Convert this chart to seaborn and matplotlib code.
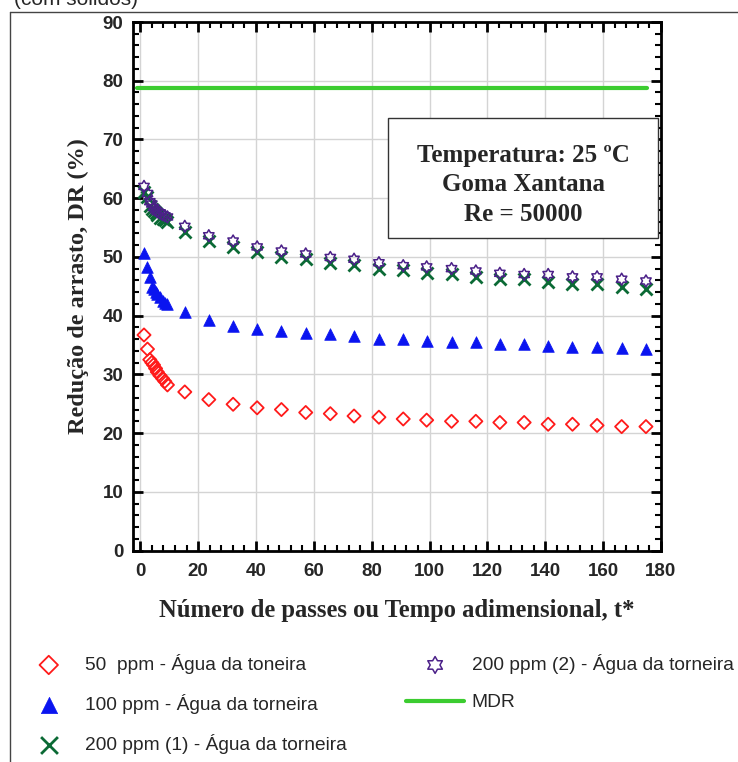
import numpy as np
import pandas as pd
import matplotlib
matplotlib.use("Agg")
import matplotlib.pyplot as plt
import seaborn as sns
from matplotlib.path import Path
from matplotlib.patches import Rectangle
from matplotlib.lines import Line2D
from matplotlib.ticker import MultipleLocator

# ---------------- data ----------------
t_passes = [1.3, 2.5, 3.3, 4.0, 4.6, 5.3, 5.9, 6.8, 7.7, 8.5, 9.4,
            15.4, 23.7, 32.1, 40.4, 48.8, 57.2, 65.7, 73.9, 82.5, 90.9,
            99.0, 107.6, 116.0, 124.3, 132.7, 141.0, 149.4, 157.9, 166.4, 174.8]
dr_50ppm = [36.7, 34.3, 32.5, 32.0, 31.6, 31.0, 30.4, 29.8, 29.3, 28.8, 28.2,
            27.0, 25.7, 24.9, 24.3, 24.0, 23.5, 23.3, 22.9, 22.7, 22.4,
            22.2, 22.0, 22.0, 21.8, 21.8, 21.5, 21.5, 21.3, 21.1, 21.1]
dr_100ppm = [50.6, 48.2, 46.6, 44.9, 44.6, 44.0, 43.6, 43.1, 42.5, 42.1, 41.9,
             40.6, 39.2, 38.3, 37.8, 37.3, 37.1, 36.8, 36.5, 36.1, 36.0,
             35.6, 35.5, 35.5, 35.1, 35.1, 34.9, 34.6, 34.6, 34.4, 34.3]
dr_200ppm_1 = [61.1, 60.2, 58.7, 58.2, 57.8, 57.4, 57.1, 56.7, 56.4, 56.2, 56.0,
               54.2, 52.7, 51.7, 50.8, 50.0, 49.7, 49.0, 48.7, 48.0, 47.7,
               47.3, 47.1, 46.6, 46.3, 46.2, 45.7, 45.4, 45.3, 44.9, 44.6]
dr_200ppm_2 = [62.0, 60.8, 59.4, 59.0, 58.4, 58.0, 57.7, 57.5, 57.2, 57.0, 56.8,
               55.2, 53.6, 52.7, 51.7, 51.0, 50.5, 49.9, 49.6, 49.0, 48.5,
               48.3, 48.0, 47.6, 47.2, 47.0, 47.0, 46.6, 46.6, 46.2, 45.9]
mdr_x = [-1.0, 175.0]
mdr_y = [78.8, 78.8]

labels = ["50  ppm - Água da toneira",
          "100 ppm - Água da torneira",
          "200 ppm (1) - Água da torneira",
          "200 ppm (2) - Água da torneira",
          "MDR"]
x_ticks = list(range(0, 181, 20))
y_ticks = list(range(0, 91, 10))

# ---------------- style ----------------
sns.set_style("ticks")
plt.rcParams["font.family"] = ["Liberation Sans", "DejaVu Sans"]

fig = plt.figure(figsize=(7.38, 7.62), dpi=100)
ax = fig.add_axes([133 / 738, 1 - 550.5 / 762, (661 - 133) / 738, (550.5 - 22) / 762])

# hexagram marker
angs = np.deg2rad(np.arange(12) * 30 + 90)
rad = np.where(np.arange(12) % 2 == 0, 1.0, 1 / np.sqrt(3))
verts = np.column_stack([rad * np.cos(angs), rad * np.sin(angs)])
verts = np.vstack([verts, verts[:1]])
codes = [Path.MOVETO] + [Path.LINETO] * 11 + [Path.CLOSEPOLY]
hexagram = Path(verts, codes)

df = pd.DataFrame({"t": t_passes, "a": dr_50ppm, "b": dr_100ppm,
                   "c": dr_200ppm_1, "d": dr_200ppm_2})

sns.lineplot(x=mdr_x, y=mdr_y, ax=ax, color="#3ccc30", lw=3, label=labels[4],
             zorder=2)
sns.scatterplot(data=df, x="t", y="a", ax=ax, marker="D", s=45,
                facecolors="none", edgecolor="#ff1a1a", linewidth=1.3,
                label=labels[0], zorder=3)
sns.scatterplot(data=df, x="t", y="b", ax=ax, marker="^", s=70,
                color="#0a14f0", edgecolor="#0a14f0", linewidth=0.5,
                label=labels[1], zorder=3)
sns.scatterplot(data=df, x="t", y="c", ax=ax, marker="x", s=75,
                color="#0b6a35", linewidth=2.0, label=labels[2], zorder=3)
sns.scatterplot(data=df, x="t", y="d", ax=ax, marker=hexagram, s=75,
                facecolors="none", edgecolor="#4b2088", linewidth=1.1,
                label=labels[3], zorder=4)

ax.set_xlim(-2.5, 180)
ax.set_ylim(0, 90)
ax.set_xticks(x_ticks)
ax.set_yticks(y_ticks)
ax.xaxis.set_minor_locator(MultipleLocator(4))
ax.yaxis.set_minor_locator(MultipleLocator(2))
ax.grid(True, which="major", color="#d4d4d4", lw=1.0, zorder=0)
ax.set_axisbelow(True)
ax.tick_params(which="both", direction="in", top=True, right=True,
               width=1.5, color="black")
ax.tick_params(which="major", length=7, width=2)
ax.tick_params(which="minor", length=4, width=1.5)
ax.tick_params(axis="both", which="major", labelsize=13.5)
ax.tick_params(axis="x", which="major", pad=9)
ax.tick_params(axis="y", which="major", pad=7)
for lab in ax.get_xticklabels() + ax.get_yticklabels():
    lab.set_fontweight("bold")
for sp in ax.spines.values():
    sp.set_linewidth(2)
    sp.set_color("black")

ax.set_xlabel("Número de passes ou Tempo adimensional, t*",
              family="Liberation Serif", fontweight="bold", fontsize=17.7,
              labelpad=14)
ax.set_ylabel("Redução de arrasto, DR (%)",
              family="Liberation Serif", fontweight="bold", fontsize=17.5,
              labelpad=10)

# info box
bx0 = (388 - 133) / 528
bx1 = (658 - 133) / 528
by0 = (550.5 - 238) / 528.5
by1 = (550.5 - 118) / 528.5
ax.add_patch(Rectangle((bx0, by0), bx1 - bx0, by1 - by0, transform=ax.transAxes,
                       facecolor="white", edgecolor="#333333", lw=1.0, zorder=5))
ax.text((bx0 + bx1) / 2, (by0 + by1) / 2 - 0.013,
        "Temperatura: 25 ºC\nGoma Xantana\nRe = 50000",
        transform=ax.transAxes, ha="center", va="center",
        family="Liberation Serif", fontweight="bold", fontsize=18,
        linespacing=1.37, zorder=6)

# legend
h, l = ax.get_legend_handles_labels()
hd = dict(zip(l, h))
ax.get_legend().remove()
fig.legend([hd[x] for x in labels], labels, loc="upper left",
           bbox_to_anchor=(20 / 738, 1 - 654 / 762), ncol=2, frameon=False,
           fontsize=13.8, handlelength=3.0, handletextpad=0.4,
           columnspacing=3.1, labelspacing=1.04, borderpad=0,
           borderaxespad=0, markerscale=1.4)

# document frame and caption fragment
fig.add_artist(Line2D([10 / 738, 1], [1 - 12 / 762, 1 - 12 / 762],
                      transform=fig.transFigure, color="#444444", lw=1))
fig.add_artist(Line2D([10 / 738, 10 / 738], [0, 1 - 12 / 762],
                      transform=fig.transFigure, color="#444444", lw=1))
fig.text(14 / 738, 1 - 9 / 762, "(com sólidos)", fontsize=15, va="bottom",
         ha="left")

fig.savefig("out.png", dpi=100)
